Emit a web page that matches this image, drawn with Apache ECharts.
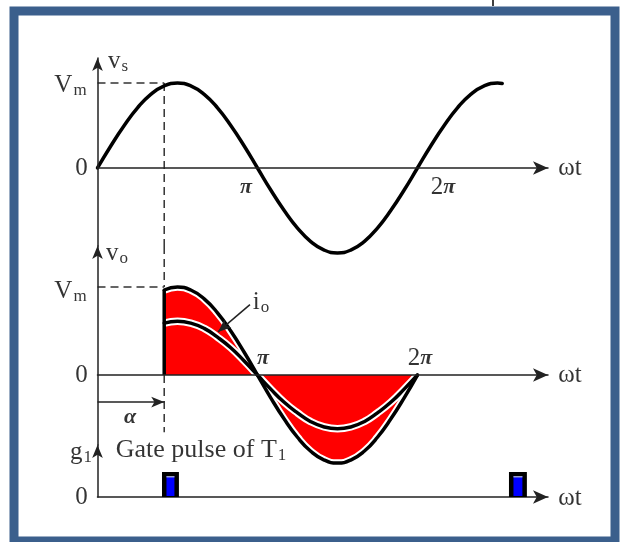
<!DOCTYPE html>
<html>
<head>
<meta charset="utf-8">
<script src="https://cdn.jsdelivr.net/npm/echarts@6/dist/echarts.min.js"></script>
<style>
  html, body { margin: 0; padding: 0; background: #fff; }
  #chart { width: 623px; height: 542px; }
</style>
</head>
<body>
<div id="chart"></div>
<script>
// ωt sample points in multiples of π (15° steps)
const wt = [0, 0.083, 0.167, 0.25, 0.333, 0.417, 0.5, 0.583, 0.667, 0.75, 0.833, 0.917,
            1, 1.083, 1.167, 1.25, 1.333, 1.417, 1.5, 1.583, 1.667, 1.75, 1.833, 1.917,
            2, 2.083, 2.167, 2.25, 2.333, 2.417, 2.5, 2.53];
// supply voltage vs, per unit of Vm
const vs = [0, 0.259, 0.5, 0.707, 0.866, 0.966, 1, 0.966, 0.866, 0.707, 0.5, 0.259,
            0, -0.259, -0.5, -0.707, -0.866, -0.966, -1, -0.966, -0.866, -0.707, -0.5, -0.259,
            0, 0.259, 0.5, 0.707, 0.866, 0.966, 1, 0.995];

// firing angle α (multiples of π)
const alpha = 0.417;

// output voltage vo and current io, from α to 2π
const voWt = [0.417, 0.5, 0.583, 0.667, 0.75, 0.833, 0.917, 1, 1.083, 1.167,
              1.25, 1.333, 1.417, 1.5, 1.583, 1.667, 1.75, 1.833, 1.917, 2];
const vo = [0.966, 1, 0.966, 0.866, 0.707, 0.5, 0.259, 0, -0.259, -0.5,
            -0.707, -0.866, -0.966, -1, -0.966, -0.866, -0.707, -0.5, -0.259, 0];
const io = [0.59, 0.61, 0.59, 0.53, 0.43, 0.31, 0.16, 0, -0.16, -0.31,
            -0.43, -0.53, -0.59, -0.61, -0.59, -0.53, -0.43, -0.31, -0.16, 0];

// gate pulses of T1: [start, end] in multiples of π, unit height
const gatePulses = [[0.403, 0.509, 1], [2.572, 2.684, 1]];

const pairs = (xs, ys) => xs.map((x, i) => [x, ys[i]]);

const SERIF = 'Liberation Serif';
const INK = '#000';
const rich = {
  m: { fontFamily: SERIF, fontSize: 25, color: INK },
  s: { fontFamily: SERIF, fontSize: 17, color: INK, padding: [11, 0, 0, 1] },
  g: { fontFamily: SERIF, fontSize: 26, color: INK },
  i: { fontFamily: SERIF, fontSize: 22, color: INK, fontStyle: 'italic', fontWeight: 'bold' }
};

const chart = echarts.init(document.getElementById('chart'), null, { renderer: 'canvas' });

const grids = [
  { left: 97.5, width: 450.5, top: 58, height: 188 },
  { left: 97.5, width: 450.5, top: 246, height: 199 },
  { left: 97.5, width: 450.5, top: 445, height: 52 }
];
const yRanges = [[-0.918, 1.294], [-0.795, 1.466], [0, 2.08]];

const xAxes = grids.map((g, i) => ({
  gridIndex: i, type: 'value', min: 0, max: 2.816, z: 5,
  axisLine: { show: true, onZero: true, symbol: ['none', 'arrow'], symbolSize: [10, 15],
              lineStyle: { color: '#222', width: 1.5 } },
  axisTick: { show: false }, axisLabel: { show: false }, splitLine: { show: false }
}));
const yAxes = grids.map((g, i) => ({
  gridIndex: i, type: 'value', min: yRanges[i][0], max: yRanges[i][1], z: 5,
  axisLine: { show: true, onZero: true, symbol: ['none', 'arrow'], symbolSize: [8, 13],
              lineStyle: { color: '#222', width: 1.5 } },
  axisTick: { show: false }, axisLabel: { show: false }, splitLine: { show: false }
}));

function curve(gi, data, color, width, extra) {
  return Object.assign({
    type: 'line', xAxisIndex: gi, yAxisIndex: gi, data, smooth: true, showSymbol: false,
    clip: false, silent: true, lineStyle: { color, width, cap: 'round' }
  }, extra || {});
}
function dashed(gi, data) {
  return {
    type: 'line', xAxisIndex: gi, yAxisIndex: gi, data, showSymbol: false, clip: false, silent: true,
    lineStyle: { color: '#333', width: 1.5, type: [8, 5] }
  };
}
function arrow(gi, from, to, size) {
  return {
    type: 'line', xAxisIndex: gi, yAxisIndex: gi, data: [], silent: true,
    markLine: {
      silent: true, animation: false, symbol: ['none', 'arrow'], symbolSize: size,
      label: { show: false }, lineStyle: { color: '#222', width: 1.5, type: 'solid' },
      data: [[{ coord: from }, { coord: to }]]
    }
  };
}
function labels(gi, items) {
  return {
    type: 'scatter', xAxisIndex: gi, yAxisIndex: gi, symbolSize: 1, clip: false, silent: true,
    itemStyle: { color: 'rgba(0,0,0,0)' }, z: 6,
    data: items.map(([x, y, text]) => ({
      value: [x, y],
      label: { show: true, position: 'inside', formatter: text, rich }
    }))
  };
}

const vsPts = pairs(wt, vs);
const voPts = pairs(voWt, vo);
const ioPts = pairs(voWt, io);

const series = [
  // supply voltage
  dashed(0, [[0, 1], [alpha, 1]]),
  dashed(0, [[alpha, 1], [alpha, yRanges[0][0]]]),
  curve(0, vsPts, '#000', 3.5),
  labels(0, [
    [0.128, 1.259, '{m|v}{s|s}'],
    [-0.169, 0.976, '{m|V}{s|m}'],
    [-0.1, 0, '{m|0}'],
    [0.928, -0.224, '{i|π}'],
    [2.159, -0.224, '{m|2}{i|π}'],
    [2.953, 0, '{m|ωt}']
  ]),

  // output voltage and load current
  curve(1, voPts, 'rgba(0,0,0,0)', 0, { areaStyle: { color: '#ff0000', opacity: 1 } }),
  curve(1, voPts, '#fff', 7.5),
  curve(1, ioPts, '#fff', 7.5),
  curve(1, voPts, '#000', 3.5),
  curve(1, ioPts, '#000', 3.5),
  { type: 'line', xAxisIndex: 1, yAxisIndex: 1, data: [[alpha, 0], [alpha, vo[0]]], showSymbol: false,
    clip: false, silent: true, lineStyle: { color: '#000', width: 3.5 } },
  dashed(1, [[0, 1], [alpha, 1]]),
  dashed(1, [[alpha, yRanges[1][1]], [alpha, 1]]),
  dashed(1, [[alpha, 0], [alpha, -0.65]]),
  arrow(1, [0, -0.307], [alpha, -0.307], [8, 13]),
  arrow(1, [0.953, 0.80], [0.753, 0.49], [8, 13]),
  labels(1, [
    [0.122, 1.386, '{m|v}{s|o}'],
    [-0.169, 0.955, '{m|V}{s|m}'],
    [-0.1, 0, '{m|0}'],
    [1.034, 0.193, '{i|π}'],
    [2.016, 0.193, '{m|2}{i|π}'],
    [2.953, 0, '{m|ωt}'],
    [0.203, -0.477, '{i|α}'],
    [1.022, 0.83, '{m|i}{s|o}']
  ]),

  // gate pulses
  {
    type: 'custom', xAxisIndex: 2, yAxisIndex: 2, silent: true, z: 6,
    data: gatePulses,
    renderItem(params, api) {
      const p0 = api.coord([api.value(0), 0]);
      const p1 = api.coord([api.value(1), api.value(2)]);
      const x = p0[0], w = p1[0] - p0[0], top = p1[1], h = p0[1] - p1[1];
      return {
        type: 'group',
        children: [
          { type: 'rect', shape: { x, y: top, width: w, height: h }, style: { fill: '#000' } },
          { type: 'rect', shape: { x: x + 4.5, y: top + 4, width: w - 9, height: h - 5 }, style: { fill: '#0000ff' } },
          { type: 'rect', shape: { x: x + 4.5, y: top + 4, width: w - 9, height: 1.5 }, style: { fill: '#9aa0c8' } }
        ]
      };
    }
  },
  labels(2, [
    [-0.103, 1.8, '{m|g}{s|1}'],
    [0.647, 1.88, '{g|Gate pulse of T}{s|1}'],
    [-0.1, 0, '{m|0}'],
    [2.953, -0.04, '{m|ωt}']
  ])
];

chart.setOption({
  animation: false,
  backgroundColor: '#fff',
  grid: grids,
  xAxis: xAxes,
  yAxis: yAxes,
  series,
  graphic: [
    { type: 'rect', shape: { x: 14, y: 11, width: 601, height: 530 },
      style: { fill: 'none', stroke: '#3b5f8c', lineWidth: 9 }, silent: true },
    { type: 'line', shape: { x1: 493, y1: 0, x2: 493, y2: 6 },
      style: { stroke: '#000', lineWidth: 1.5 }, silent: true }
  ]
});
</script>
</body>
</html>
